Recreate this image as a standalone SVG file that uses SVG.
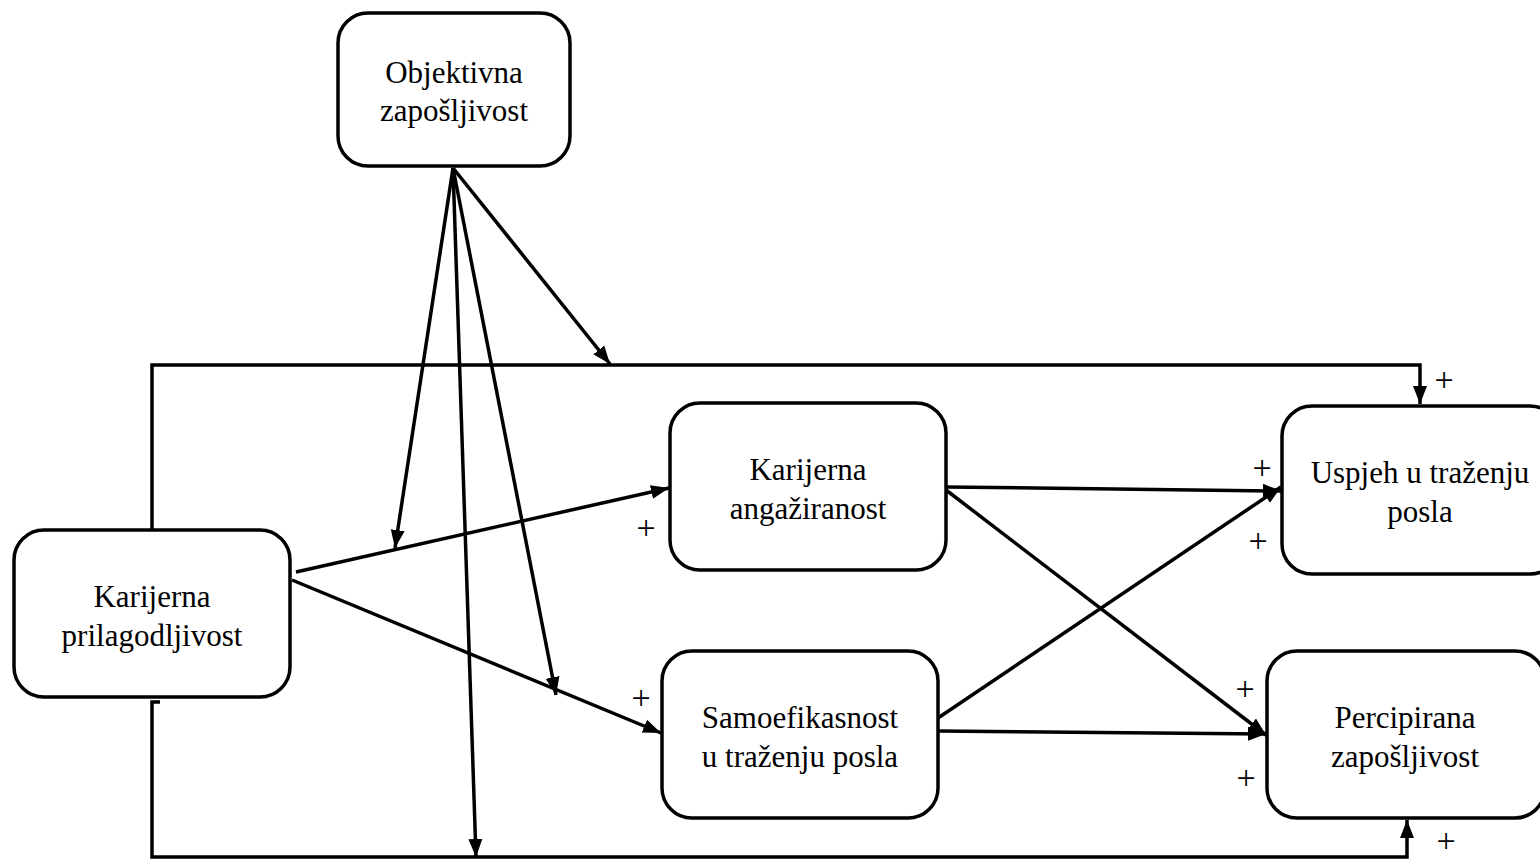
<svg xmlns="http://www.w3.org/2000/svg" width="1540" height="859" viewBox="0 0 1540 859">
<style>
.box{fill:#fff;stroke:#000;stroke-width:3.5}
.t{font-family:'Liberation Serif',serif;font-size:31px;fill:#000;text-anchor:middle}
.p{font-family:'Liberation Serif',serif;font-size:34px;fill:#000;text-anchor:middle}
.c{fill:none;stroke:#000;stroke-width:3.5}
</style>
<defs>
<marker id="a" markerUnits="userSpaceOnUse" markerWidth="20" markerHeight="16" refX="18" refY="8" orient="auto">
<path d="M0,1 L18,8 L0,15 Z" fill="#000"/>
</marker>
</defs>
<rect width="1540" height="859" fill="#fff"/>
<g id="connectors">
<path class="c" d="M152 530 V365 H1420 V404" marker-end="url(#a)"/>
<path class="c" d="M160 702 H152 V857 H1407 V820" marker-end="url(#a)"/>
<line class="c" x1="453" y1="168" x2="395" y2="548" marker-end="url(#a)"/>
<line class="c" x1="453" y1="168" x2="476" y2="857" marker-end="url(#a)"/>
<line class="c" x1="453" y1="168" x2="556" y2="695" marker-end="url(#a)"/>
<line class="c" x1="453" y1="168" x2="610" y2="364" marker-end="url(#a)"/>
<line class="c" x1="296" y1="572" x2="669" y2="488" marker-end="url(#a)"/>
<line class="c" x1="292" y1="580" x2="661" y2="733" marker-end="url(#a)"/>
<line class="c" x1="946" y1="487" x2="1281" y2="491" marker-end="url(#a)"/>
<line class="c" x1="946" y1="490" x2="1266" y2="735" marker-end="url(#a)"/>
<line class="c" x1="938" y1="718" x2="1281" y2="487" marker-end="url(#a)"/>
<line class="c" x1="938" y1="731" x2="1266" y2="734" marker-end="url(#a)"/>
</g>
<g id="n-objektivna">
<rect class="box" x="338" y="13" width="232" height="153" rx="30"/>
<text class="t" x="454" y="83">Objektivna</text>
<text class="t" x="454" y="121">zapošljivost</text>
</g>
<g id="n-prilagodljivost">
<rect class="box" x="14" y="530" width="276" height="167" rx="30"/>
<text class="t" x="152" y="607">Karijerna</text>
<text class="t" x="152" y="646">prilagodljivost</text>
</g>
<g id="n-angaziranost">
<rect class="box" x="670" y="403" width="276" height="167" rx="30"/>
<text class="t" x="808" y="480">Karijerna</text>
<text class="t" x="808" y="519">angažiranost</text>
</g>
<g id="n-samoefikasnost">
<rect class="box" x="662" y="651" width="276" height="167" rx="30"/>
<text class="t" x="800" y="728">Samoefikasnost</text>
<text class="t" x="800" y="767">u traženju posla</text>
</g>
<g id="n-uspjeh">
<rect class="box" x="1282" y="406" width="278" height="168" rx="30"/>
<text class="t" x="1420" y="483">Uspjeh u traženju</text>
<text class="t" x="1420" y="522">posla</text>
</g>
<g id="n-percipirana">
<rect class="box" x="1267" y="651" width="278" height="167" rx="30"/>
<text class="t" x="1405" y="728">Percipirana</text>
<text class="t" x="1405" y="767">zapošljivost</text>
</g>
<g id="labels">
<text class="p" x="1444" y="391">+</text>
<text class="p" x="1446" y="852">+</text>
<text class="p" x="646" y="539">+</text>
<text class="p" x="641" y="709">+</text>
<text class="p" x="1262" y="479">+</text>
<text class="p" x="1258" y="552">+</text>
<text class="p" x="1245" y="700">+</text>
<text class="p" x="1246" y="789">+</text>
</g>
</svg>
